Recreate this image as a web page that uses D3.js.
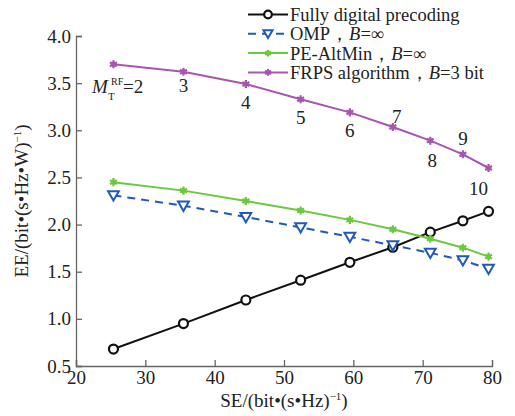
<!DOCTYPE html>
<html>
<head>
    <meta charset="utf-8" />
    <script src="https://d3js.org/d3.v7.min.js"></script>
    <style>
        body { margin: 0; background: white; }
    </style>
</head>
<body>
    <div id="chart"></div>
    <script>

        // SE values (x) for M_T^RF = 2..10
        let se = [25.4, 35.5, 44.5, 52.4, 59.5, 65.7, 71.1, 75.8, 79.5];
        let rfLabels = ['2', '3', '4', '5', '6', '7', '8', '9', '10'];

        let fullyDigital = [0.68, 0.95, 1.20, 1.41, 1.60, 1.76, 1.92, 2.04, 2.14];
        let omp = [2.31, 2.20, 2.08, 1.97, 1.87, 1.78, 1.70, 1.62, 1.53];
        let peAltMin = [2.45, 2.36, 2.25, 2.15, 2.05, 1.95, 1.85, 1.755, 1.66];
        let frps = [3.70, 3.62, 3.49, 3.33, 3.19, 3.035, 2.89, 2.745, 2.60];

        let xTicks = [20, 30, 40, 50, 60, 70, 80];
        let yTicks = [0.5, 1.0, 1.5, 2.0, 2.5, 3.0, 3.5, 4.0];

        let FONT = 'Liberation Serif, Times New Roman, serif';
        let FS = 19;

        let width = 515, height = 416;
        let margin = { left: 76, right: 23, top: 36, bottom: 50 };

        let svg = d3.select('#chart').append('svg')
            .attr('width', width)
            .attr('height', height)
            .attr('font-family', FONT)
            .attr('font-size', FS);

        let x = d3.scaleLinear().domain([20, 80]).range([margin.left, width - margin.right]);
        let y = d3.scaleLinear().domain([0.5, 4.0]).range([height - margin.bottom, margin.top]);

        // axes, ticks pointing inward
        let xAxis = svg.append('g')
            .attr('transform', 'translate(0,' + y(0.5) + ')')
            .call(d3.axisBottom(x).tickValues(xTicks).tickSize(-6).tickPadding(9).tickFormat(d3.format('d')));
        let yAxis = svg.append('g')
            .attr('transform', 'translate(' + x(20) + ',0)')
            .call(d3.axisLeft(y).tickValues(yTicks).tickSize(-6).tickPadding(5).tickFormat(d3.format('.1f')));

        [xAxis, yAxis].forEach(function (a) {
            a.attr('font-family', FONT).attr('font-size', FS);
            a.select('.domain').attr('stroke', '#666').attr('stroke-width', 1.3);
            a.selectAll('.tick line').attr('stroke', '#666').attr('stroke-width', 1.3);
            a.selectAll('.tick text')
                .attr('font-family', FONT)
                .attr('font-size', FS)
                .attr('fill', '#222');
        });
        xAxis.selectAll('.tick text').attr('dy', '0.45em');

        let series = [
            { name: 'Fully digital precoding', vals: fullyDigital, color: '#111111', dash: null, marker: 'circle' },
            { name: 'OMP', vals: omp, color: '#2159b8', dash: '8,6', marker: 'triangle' },
            { name: 'PE-AltMin', vals: peAltMin, color: '#6cc83e', dash: null, marker: 'star' },
            { name: 'FRPS', vals: frps, color: '#a855b0', dash: null, marker: 'star' }
        ];

        let line = d3.line()
            .x(function (d) { return x(d[0]); })
            .y(function (d) { return y(d[1]); });

        function drawMarker(g, kind, color, px, py, k) {
            k = k || 1;
            if (kind === 'circle') {
                g.append('circle').attr('cx', px).attr('cy', py).attr('r', 4.5 * k)
                    .attr('fill', 'white').attr('stroke', color).attr('stroke-width', 2.2);
            } else if (kind === 'triangle') {
                g.append('path')
                    .attr('d', d3.symbol().type(d3.symbolTriangle).size(50 * k * k)())
                    .attr('transform', 'translate(' + px + ',' + (py - 1) + ') rotate(180)')
                    .attr('fill', 'white').attr('stroke', color).attr('stroke-width', 2);
            } else {
                g.append('path')
                    .attr('d', d3.symbol().type(d3.symbolAsterisk).size(45 * k * k)())
                    .attr('transform', 'translate(' + px + ',' + py + ')')
                    .attr('fill', 'none').attr('stroke', color).attr('stroke-width', 2.2);
                g.append('circle').attr('cx', px).attr('cy', py).attr('r', 2.5 * k).attr('fill', color);
            }
        }

        series.forEach(function (s) {
            let pts = se.map(function (v, i) { return [v, s.vals[i]]; });
            svg.append('path')
                .datum(pts)
                .attr('d', line)
                .attr('fill', 'none')
                .attr('stroke', s.color)
                .attr('stroke-width', 2)
                .attr('stroke-dasharray', s.dash);
        });
        series.forEach(function (s) {
            let g = svg.append('g');
            se.forEach(function (v, i) {
                drawMarker(g, s.marker, s.color, x(v), y(s.vals[i]));
            });
        });

        // M_T^RF labels near FRPS curve
        let labelOffsets = [[0, 0], [0, 14], [0, 18], [0, 18], [0, 18], [4, -11], [2, 20], [0, -16], [-10, 20]];
        let lbl = svg.append('g').attr('fill', '#222');
        se.forEach(function (v, i) {
            if (i === 0) return;
            lbl.append('text')
                .attr('x', x(v) + labelOffsets[i][0])
                .attr('y', y(frps[i]) + labelOffsets[i][1])
                .attr('dy', '0.35em')
                .attr('text-anchor', 'middle')
                .text(rfLabels[i]);
        });
        let my = y(frps[0]) + 29;
        lbl.append('text').attr('x', 92).attr('y', my).attr('font-style', 'italic').text('M');
        lbl.append('text').attr('x', 111).attr('y', my - 8).attr('font-size', 10).text('RF');
        lbl.append('text').attr('x', 108).attr('y', my + 7).attr('font-size', 11).text('T');
        lbl.append('text').attr('x', 123).attr('y', my).text('=' + rfLabels[0]);

        // legend
        let legendItems = [
            { s: series[0], parts: [['Fully digital precoding', false]] },
            { s: series[1], parts: [['OMP\uff0c', false], ['B', true], ['=\u221e', false]] },
            { s: series[2], parts: [['PE-AltMin\uff0c', false], ['B', true], ['=\u221e', false]] },
            { s: series[3], parts: [['FRPS algorithm\uff0c', false], ['B', true], ['=3 bit', false]] }
        ];
        let legend = svg.append('g');
        legendItems.forEach(function (it, i) {
            let ly = 14.5 + i * 19.3;
            legend.append('line')
                .attr('x1', 248).attr('x2', 288).attr('y1', ly).attr('y2', ly)
                .attr('stroke', it.s.color).attr('stroke-width', 2)
                .attr('stroke-dasharray', it.s.dash);
            drawMarker(legend, it.s.marker, it.s.color, 268, ly, 0.85);
            let t = legend.append('text').attr('x', 290).attr('y', ly).attr('dy', '0.35em')
                .attr('font-size', 18.5)
                .attr('fill', '#222');
            it.parts.forEach(function (p) {
                t.append('tspan').attr('font-style', p[1] ? 'italic' : 'normal').text(p[0]);
            });
        });

        // axis titles
        let xl = svg.append('text')
            .attr('x', x(50)).attr('y', 407)
            .attr('text-anchor', 'middle')
            .attr('fill', '#222');
        xl.append('tspan').text('SE/(bit\u2022(s\u2022Hz)');
        xl.append('tspan').attr('dy', -7).attr('font-size', 11).text('\u22121');
        xl.append('tspan').attr('dy', 7).text(')');

        let yl = svg.append('text')
            .attr('transform', 'translate(28,' + y(2.25) + ') rotate(-90)')
            .attr('text-anchor', 'middle')
            .attr('fill', '#222');
        yl.append('tspan').text('EE/(bit\u2022(s\u2022Hz\u2022W)');
        yl.append('tspan').attr('dy', -7).attr('font-size', 11).text('\u22121');
        yl.append('tspan').attr('dy', 7).text(')');

    </script>
</body>
</html>
